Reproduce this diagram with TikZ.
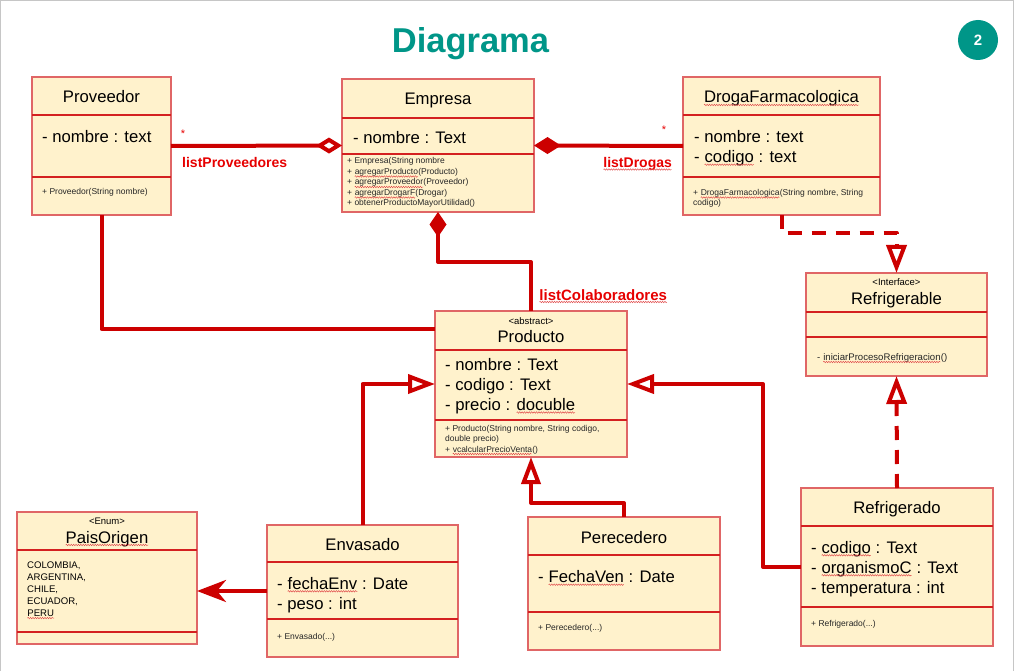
\documentclass[tikz,border=0pt]{standalone}
\usepackage{fontspec}
\setmainfont{Liberation Sans}
\usetikzlibrary{arrows.meta,calc,decorations.pathmorphing}
\definecolor{linered}{HTML}{CC0000}
\definecolor{lblred}{HTML}{E60000}
\definecolor{boxfill}{HTML}{FFF2CC}
\definecolor{boxline}{HTML}{E06666}
\definecolor{divline}{HTML}{D42020}
\definecolor{titleteal}{HTML}{009688}
\definecolor{sqred}{HTML}{E04848}
\tikzset{
 umlbox/.style={draw=boxline, fill=boxfill, line width=1.5pt, inner sep=0pt, outer sep=0pt, anchor=north west},
 divider/.style={draw=divline, line width=1.1pt},
 ttl/.style={inner sep=0pt, anchor=base, font=\fontsize{16.7}{20}\selectfont},
 attr/.style={inner sep=0pt, anchor=base west, font=\fontsize{16.7}{20}\selectfont},
 meth/.style={inner sep=0pt, anchor=base west, font=\fontsize{8.5}{10}\selectfont, text=black!85},
 stereo/.style={inner sep=0pt, anchor=base, font=\fontsize{9.5}{11}\selectfont},
 enumv/.style={inner sep=0pt, anchor=base west, font=\fontsize{9.6}{11}\selectfont},
 conn/.style={draw=linered, line width=4pt, line join=round},
 dashpat/.style={dash pattern=on 14pt off 10pt},
 lbl/.style={inner sep=0pt, anchor=base west, text=lblred, font=\bfseries\fontsize{14}{16}\selectfont},
 star/.style={inner sep=0pt, text=lblred, font=\fontsize{11}{12}\selectfont},
 sqline/.style={draw=sqred, line width=0.45pt, decorate, decoration={snake, amplitude=0.75pt, segment length=2.4pt}},
}
\newcommand\sq[1]{\tikz[baseline=(sqw.base)]{\node[inner sep=0pt,outer sep=0pt,anchor=base west] (sqw) at (0,0) {#1};\draw[sqline] ([yshift=-2pt]sqw.base west) -- ([yshift=-2pt]sqw.base east);}}
\begin{document}
\begin{tikzpicture}[x=1pt,y=-1pt]
\useasboundingbox (0,0) rectangle (1015,671);
\draw[gray!45, line width=1pt] (0.5,671) -- (0.5,0.5) -- (1013.5,0.5) -- (1013.5,671);

% title and badge
\node[inner sep=0pt, anchor=base, text=titleteal, font=\bfseries\fontsize{34.5}{40}\selectfont] (title) at (470.5,53) {Diagrama};
\node[circle, fill=titleteal, minimum size=40pt, inner sep=0pt, text=white, font=\bfseries\fontsize{15}{18}\selectfont] (badge) at (978,40) {2};

% Proveedor
\node[umlbox, minimum width=139, minimum height=138] (prov) at (32,77) {};
\draw[divider] (32,115) -- (171,115);
\draw[divider] (32,177) -- (171,177);
\node[ttl] (provT) at (101.5,103) {Proveedor};
\node[attr] (provA) at (42,143) {- nombre : text};
\node[meth] (provM) at (42,195) {+ Proveedor(String nombre)};

% Empresa
\node[umlbox, minimum width=192, minimum height=133] (emp) at (342,79) {};
\draw[divider] (342,118) -- (534,118);
\draw[divider] (342,154) -- (534,154);
\node[ttl] (empT) at (438,105) {Empresa};
\node[attr] (empA) at (353,144) {- nombre : Text};
\node[meth] (empM1) at (347,164) {+ Empresa(String nombre};
\node[meth] (empM2) at (347,174.5) {+ \sq{agregarProducto}(Producto)};
\node[meth] (empM3) at (347,185) {+ \sq{agregarProveedor}(Proveedor)};
\node[meth] (empM4) at (347,195.5) {+ \sq{agregarDrogarF}(Drogar)};
\node[meth] (empM5) at (347,206) {+ obtenerProductoMayorUtilidad()};

% DrogaFarmacologica
\node[umlbox, minimum width=197, minimum height=138] (droga) at (683,77) {};
\draw[divider] (683,115) -- (880,115);
\draw[divider] (683,177) -- (880,177);
\node[ttl] (drogaT) at (781.5,103) {\sq{DrogaFarmacologica}};
\node[attr] (drogaA1) at (694,142.7) {- nombre : text};
\node[attr] (drogaA2) at (694,162.7) {- \sq{codigo} : text};
\node[meth] (drogaM1) at (693,195.5) {+ \sq{DrogaFarmacologica}(String nombre, String};
\node[meth] (drogaM2) at (693,205.5) {codigo)};

% Refrigerable
\node[umlbox, minimum width=181, minimum height=103] (rfa) at (806,273) {};
\draw[divider] (806,312) -- (987,312);
\draw[divider] (806,337) -- (987,337);
\node[stereo] (rfaS) at (896.5,285.5) {<Interface>};
\node[ttl] (rfaT) at (896.5,305) {Refrigerable};
\node[meth, font=\fontsize{9.6}{11}\selectfont] (rfaM) at (817,360) {- \sq{iniciarProcesoRefrigeracion}()};

% Producto
\node[umlbox, minimum width=192, minimum height=146] (prod) at (435,311) {};
\draw[divider] (435,350) -- (627,350);
\draw[divider] (435,420) -- (627,420);
\node[stereo] (prodS) at (531,324) {<abstract>};
\node[ttl] (prodT) at (531,342.5) {Producto};
\node[attr] (prodA1) at (445,370.5) {- nombre : Text};
\node[attr] (prodA2) at (445,390.5) {- codigo : Text};
\node[attr] (prodA3) at (445,410.5) {- precio : \sq{docuble}};
\node[meth] (prodM1) at (445,431) {+ Producto(String nombre, String codigo,};
\node[meth] (prodM2) at (445,441.5) {double precio)};
\node[meth] (prodM3) at (445,452) {+ \sq{vcalcularPrecioVenta}()};

% PaisOrigen
\node[umlbox, minimum width=180, minimum height=132] (pais) at (17,512) {};
\draw[divider] (17,550) -- (197,550);
\draw[divider] (17,632) -- (197,632);
\node[stereo] (paisS) at (107,524) {<Enum>};
\node[ttl] (paisT) at (107,543) {\sq{PaisOrigen}};
\node[enumv] (paisE1) at (27,568.5) {COLOMBIA,};
\node[enumv] (paisE2) at (27,580.4) {ARGENTINA,};
\node[enumv] (paisE3) at (27,592.3) {CHILE,};
\node[enumv] (paisE4) at (27,604.2) {ECUADOR,};
\node[enumv] (paisE5) at (27,616.1) {\sq{PERU}};

% Envasado
\node[umlbox, minimum width=191, minimum height=132] (env) at (267,525) {};
\draw[divider] (267,562) -- (458,562);
\draw[divider] (267,619) -- (458,619);
\node[ttl] (envT) at (362.5,550) {Envasado};
\node[attr] (envA1) at (277,589.3) {- \sq{fechaEnv} : Date};
\node[attr] (envA2) at (277,609.3) {- peso : int};
\node[meth] (envM) at (277,639) {+ Envasado(...)};

% Perecedero
\node[umlbox, minimum width=192, minimum height=133] (per) at (528,517) {};
\draw[divider] (528,555) -- (720,555);
\draw[divider] (528,612) -- (720,612);
\node[ttl] (perT) at (624,543.3) {Perecedero};
\node[attr] (perA) at (538,582.7) {- \sq{FechaVen} : Date};
\node[meth] (perM) at (538,630.5) {+ Perecedero(...)};

% Refrigerado
\node[umlbox, minimum width=192, minimum height=158] (refd) at (801,488) {};
\draw[divider] (801,526) -- (993,526);
\draw[divider] (801,607) -- (993,607);
\node[ttl] (refdT) at (897,513.3) {Refrigerado};
\node[attr] (refdA1) at (811,553.3) {- \sq{codigo} : Text};
\node[attr] (refdA2) at (811,573.3) {- \sq{organismoC} : Text};
\node[attr] (refdA3) at (811,593.3) {- temperatura : int};
\node[meth] (refdM) at (811,626.7) {+ Refrigerado(...)};

% connectors
\draw[conn, -{Diamond[open,length=26pt,width=16pt]}] (prov.east) -- (emp.west);
\draw[conn, {Diamond[length=27pt,width=17pt]}-] (emp.east) -- (droga.west);
\draw[conn, {Diamond[length=25pt,width=17pt]}-] (emp.south) -- ++(0,50) -| (prod.north);
\draw[conn] (prov.south) |- ($(prod.north west)+(0,18)$);
\draw[conn, -{Triangle[open,length=27pt,width=19pt]}] (env.north) |- (prod.west);
\draw[conn, -{Triangle[open,length=27pt,width=19pt]}] (refd.west) -- ++(-38,0) |- (prod.east);
\draw[conn, -{Triangle[open,length=27pt,width=19pt]}] (per.north) -- ++(0,-14) -| (prod.south);
\draw[conn, dashpat, -{Triangle[open,length=28pt,width=20pt]}] (droga.south) -- ++(0,18) -| (rfa.north);
\draw[conn, dashpat, -{Triangle[open,length=28pt,width=20pt]}] (refd.north) -- (rfa.south);
\draw[conn, -{Stealth[length=29pt,width=22pt,inset=9pt]}] (env.west) -- (env.west -| pais.east);

% labels
\node[star] (s1) at (183,134) {*};
\node[star] (s2) at (664,130) {*};
\node[lbl] (l1) at (182,167.5) {listProveedores};
\node[lbl] (l2) at (603,167.5) {\sq{listDrogas}};
\node[lbl, font=\bfseries\fontsize{15}{17}\selectfont] (l3) at (539,300) {\sq{listColaboradores}};
\end{tikzpicture}
\end{document}
